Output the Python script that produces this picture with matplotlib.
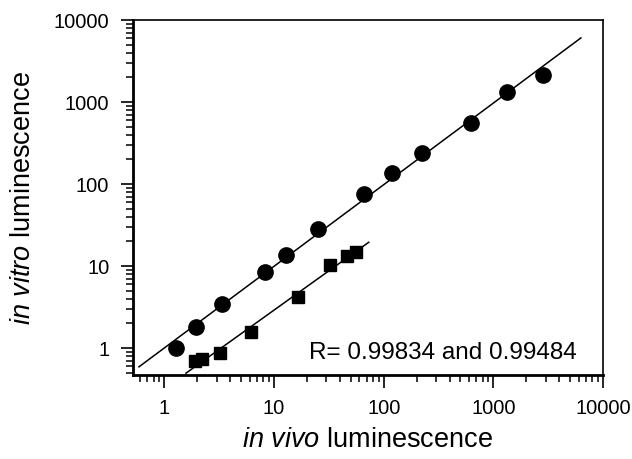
import numpy as np
import matplotlib
matplotlib.use("Agg")
import matplotlib.pyplot as plt

plt.rcParams['font.family'] = ['Liberation Sans', 'DejaVu Sans']
plt.rcParams['mathtext.fontset'] = 'custom'
plt.rcParams['mathtext.rm'] = 'Liberation Sans'
plt.rcParams['mathtext.it'] = 'Liberation Sans:italic'

# --- data ---
circ_vivo = [1.27, 1.94, 3.35, 8.26, 12.8, 25.2, 66, 119, 224, 626, 1334, 2840]
circ_vitro = [1.0, 1.80, 3.44, 8.45, 13.6, 28.3, 76, 136, 239, 555, 1324, 2134]

sq_vivo = [1.90, 2.20, 3.21, 6.15, 16.5, 32.4, 46.2, 55.9]
sq_vitro = [0.69, 0.73, 0.87, 1.57, 4.19, 10.3, 13.2, 14.8]

# x extent of the two regression lines
circ_fit_range = [0.585, 6300]
sq_fit_range = [1.57, 73]

r_text = "R= 0.99834 and 0.99484"


def loglog_fit(x, y, xr):
    k, b = np.polyfit(np.log10(x), np.log10(y), 1)
    xr = np.array(xr)
    return xr, 10 ** (b + k * np.log10(xr))


fig = plt.figure(figsize=(6.32, 4.59), dpi=100)
ax = fig.add_axes([0.2104, 0.183, 0.7436, 0.7734])

lx, ly = loglog_fit(circ_vivo, circ_vitro, circ_fit_range)
ax.plot(lx, ly, color='black', lw=1.1)
lx, ly = loglog_fit(sq_vivo, sq_vitro, sq_fit_range)
ax.plot(lx, ly, color='black', lw=1.1)

ax.plot(circ_vivo, circ_vitro, 'o', color='black', ms=11, zorder=3)
ax.plot(sq_vivo, sq_vitro, 's', color='black', ms=9, zorder=3)

ax.set_xscale('log')
ax.set_yscale('log')
ax.set_xlim(0.516, 10000)
ax.set_ylim(0.47, 10000)

ax.set_xticks([1, 10, 100, 1000, 10000])
ax.set_xticklabels(['1', '10', '100', '1000', '10000'])
ax.set_yticks([1, 10, 100, 1000, 10000])
ax.set_yticklabels(['1', '10', '100', '1000', '10000'])

ax.tick_params(which='major', direction='out', length=9, width=1.2,
               labelsize=14.5, pad=8)
ax.tick_params(which='minor', direction='out', length=5, width=1.1)
ax.tick_params(axis='y', which='major', pad=8)

for side in ['left', 'bottom']:
    ax.spines[side].set_linewidth(2.0)
for side in ['top', 'right']:
    ax.spines[side].set_linewidth(1.2)

ax.set_xlabel(r'$\mathit{in\ vivo}$ luminescence', fontsize=19.5, labelpad=7)
ax.set_ylabel(r'$\mathit{in\ vitro}$ luminescence', fontsize=19.5, labelpad=13)

ax.text(0.945, 0.045, r_text, transform=ax.transAxes, ha='right',
        va='baseline', fontsize=17.5)

fig.savefig('out.png', dpi=100)
